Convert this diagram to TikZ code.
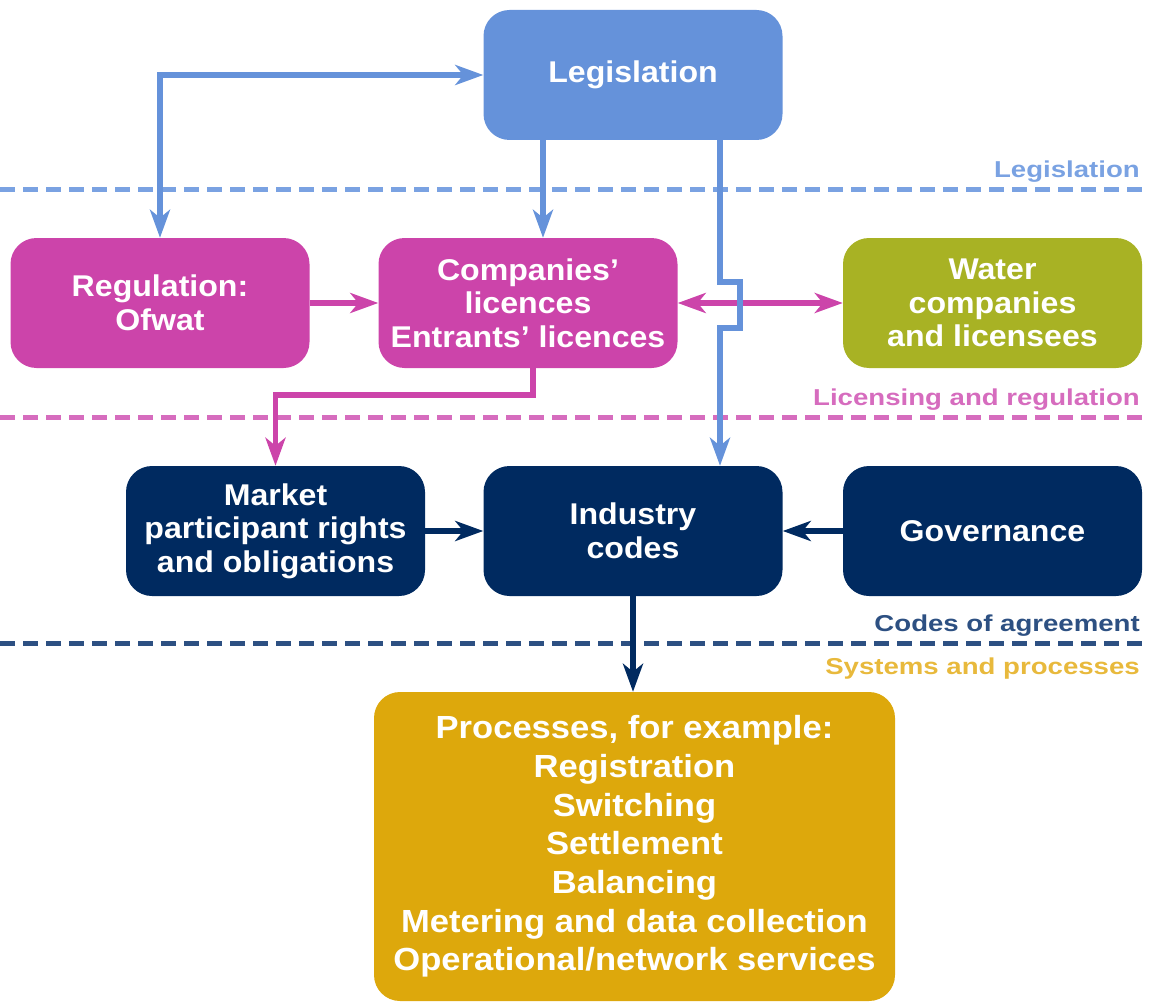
\documentclass[tikz,border=0pt]{standalone}
\usepackage{fontspec}
\setmainfont{Liberation Sans}[FakeStretch=1.07]
\newfontfamily\procfont{Liberation Sans}[FakeStretch=1.08]
\newfontfamily\layerfont{Liberation Sans}[FakeStretch=1.2]
\usetikzlibrary{arrows.meta}

\definecolor{legblue}{RGB}{101,146,218}
\definecolor{legdash}{RGB}{122,162,226}
\definecolor{regmag}{RGB}{204,68,170}
\definecolor{regdash}{RGB}{214,108,190}
\definecolor{watolive}{RGB}{168,178,36}
\definecolor{codenavy}{RGB}{0,42,96}
\definecolor{codedash}{RGB}{45,80,130}
\definecolor{procgold}{RGB}{221,168,12}
\definecolor{proclabel}{RGB}{232,185,60}

\tikzset{
  box/.style={rounded corners=26pt, inner sep=0pt, align=center, text=white,
    minimum width=299pt, minimum height=130pt,
    font=\bfseries\fontsize{30}{33.5}\selectfont},
  tip/.tip={Stealth[length=28pt,width=20pt,inset=8pt]},
  conn/.style={line width=5.5pt, -tip},
  both/.style={line width=5.5pt, tip-tip},
  layerline/.style={line width=5pt, dash pattern=on 15pt off 8pt},
  layerlabel/.style={anchor=base east, inner sep=0pt,
    font=\layerfont\bfseries\fontsize{23}{27}\selectfont}
}

\begin{document}
\begin{tikzpicture}[x=1pt,y=-1pt]
\useasboundingbox (0,0) rectangle (1151,1003);

% layer separators and their names
\draw[layerline, legdash] (0,190) -- (1142,190);
\draw[layerline, regdash] (0,417) -- (1142,417);
\draw[layerline, codedash] (0,643) -- (1142,643);
\node[layerlabel, text=legdash] (lbllegis) at (1140,178) {Legislation};
\node[layerlabel, text=regdash] (lbllic) at (1140,405) {Licensing and regulation};
\node[layerlabel, text=codedash] (lblcodes) at (1140,631) {Codes of agreement};
\node[layerlabel, text=proclabel] (lblsys) at (1140,674) {Systems and processes};

% boxes
\node[box, fill=legblue] (leg) at (633,75) {Legislation};
\node[box, fill=regmag] (reg) at (160,303) {Regulation:\\Ofwat};
\node[box, fill=regmag] (lic) at (528,303) {Companies’\\licences\\Entrants’ licences};
\node[box, fill=watolive] (wat) at (992.5,303) {Water\\companies\\and licensees};
\node[box, fill=codenavy] (mkt) at (275.5,531) {Market\\participant rights\\and obligations};
\node[box, fill=codenavy] (ind) at (633,531) {Industry\\codes};
\node[box, fill=codenavy] (gov) at (992.5,531) {Governance};
\node[box, fill=procgold, minimum width=521pt, minimum height=309pt,
  font=\procfont\bfseries\fontsize{32}{38.7}\selectfont] (proc) at (634.5,846.5)
  {Processes, for example:\\Registration\\Switching\\Settlement\\Balancing\\Metering and data collection\\Operational/network services};

% licensing connectors
\draw[conn, regmag] (reg.east) -- (lic.west);
\draw[both, regmag] (lic.east) -- (wat.west);
\draw[conn, regmag] ([xshift=5pt]lic.south) -- ++(0,27) -| (mkt.north);

% code connectors
\draw[conn, codenavy] (mkt.east) -- (ind.west);
\draw[conn, codenavy] (gov.west) -- (ind.east);
\draw[conn, codenavy] (ind.south) -- (ind.south |- proc.north);

% legislation connectors
\draw[both, legblue] (reg.north) |- (leg.west);
\draw[conn, legblue] ([xshift=-90pt]leg.south) -- ([xshift=15pt]lic.north);
\coordinate (hopa) at (720,282);
\coordinate (hopb) at (740,282);
\coordinate (hopc) at (740,328);
\coordinate (hopd) at (720,328);
\draw[conn, legblue] ([xshift=87pt]leg.south) -- (hopa) -- (hopb) -- (hopc) -- (hopd) -- ([xshift=87pt]ind.north);
\end{tikzpicture}
\end{document}
